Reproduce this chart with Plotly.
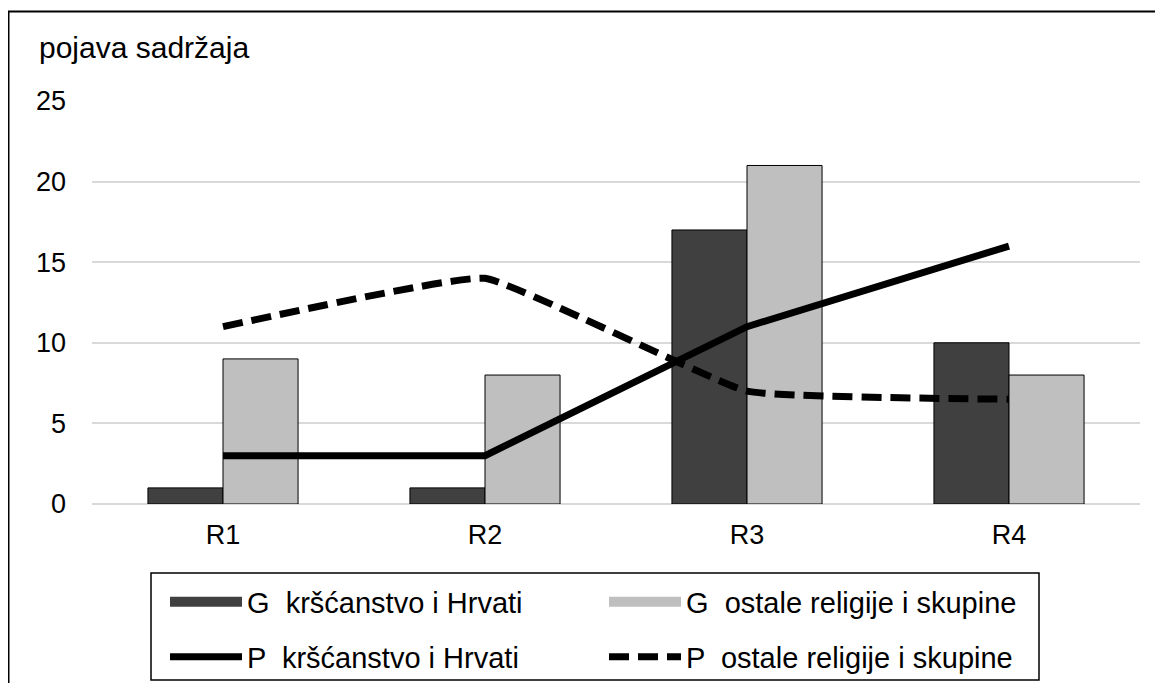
import plotly.graph_objects as go

categories = ["R1", "R2", "R3", "R4"]
g_krs = [1, 1, 17, 10]
g_ost = [9, 8, 21, 8]
p_krs = [3, 3, 11, 16]
p_ost = [11, 14, 7, 6.5]
y_ticks = [0, 5, 10, 15, 20, 25]

names = ["G  kršćanstvo i Hrvati", "G  ostale religije i skupine",
         "P  kršćanstvo i Hrvati", "P  ostale religije i skupine"]

DARK, LIGHT = "#404040", "#bfbfbf"

# Page body has an 8px margin, so figure coordinates = screen - 8
OFF = 8
W, H = 1147, 675
ml, mr, mt, mb = 92 - OFF, W - (1140 - OFF), 101 - OFF, H - (504 - OFF)
pw, ph = W - ml - mr, H - mt - mb

def px(sx):
    return (sx - OFF - ml) / pw

def py(sy):
    return (H - mb - (sy - OFF)) / ph

fig = go.Figure()
fig.add_trace(go.Bar(x=categories, y=g_krs, name=names[0], showlegend=False,
                     marker=dict(color=DARK, line=dict(color="black", width=1))))
fig.add_trace(go.Bar(x=categories, y=g_ost, name=names[1], showlegend=False,
                     marker=dict(color=LIGHT, line=dict(color="black", width=1))))
fig.add_trace(go.Scatter(x=categories, y=p_krs, name=names[2], mode="lines",
                         line=dict(color="black", width=7), legend="legend2"))
fig.add_trace(go.Scatter(x=categories, y=p_ost, name=names[3], mode="lines",
                         line=dict(color="black", width=7, dash="20px,9px",
                                   shape="spline", smoothing=0.3),
                         legend="legend2"))
# legend swatches for the bar series (wide rectangles like the original)
fig.add_trace(go.Scatter(x=[None], y=[None], name=names[0], mode="lines",
                         line=dict(color=DARK, width=14), legend="legend"))
fig.add_trace(go.Scatter(x=[None], y=[None], name=names[1], mode="lines",
                         line=dict(color=LIGHT, width=14), legend="legend"))

ITEMW = 72
leg_common = dict(orientation="h", xanchor="left", yanchor="middle",
                  bgcolor="rgba(0,0,0,0)", borderwidth=0,
                  entrywidth=440 - ITEMW - 16, entrywidthmode="pixels", itemwidth=ITEMW,
                  font=dict(size=29, color="black"), traceorder="normal")

fig.update_layout(
    width=W, height=H,
    margin=dict(l=ml, r=mr, t=mt, b=mb, autoexpand=False),
    paper_bgcolor="white", plot_bgcolor="white",
    font=dict(family="Liberation Sans, Arial, sans-serif", size=27, color="black"),
    barmode="group", bargap=0.427, bargroupgap=0,
    xaxis=dict(showgrid=False, showline=False, ticks="", tickfont=dict(size=27),
               ticklabelstandoff=12),
    yaxis=dict(range=[0, 25], tickvals=y_ticks, showgrid=True, gridcolor="#d9d9d9",
               gridwidth=1.5, zeroline=True, zerolinecolor="#d9d9d9", zerolinewidth=1.5,
               showline=False, ticks="", tickfont=dict(size=27), ticklabelstandoff=25),
    legend=dict(x=px(165), y=py(602), **leg_common),
    legend2=dict(x=px(165), y=py(657), **leg_common),
    showlegend=True,
)

fig.add_annotation(text="pojava sadržaja", xref="paper", yref="paper",
                   x=px(37), y=py(48), xanchor="left", yanchor="middle",
                   showarrow=False, font=dict(size=30))

# legend frame
fig.add_shape(type="rect", xref="paper", yref="paper",
              x0=px(151), x1=px(1039), y0=py(680), y1=py(573),
              line=dict(color="black", width=1.5), fillcolor="rgba(0,0,0,0)")
# outer frame (top and left edges visible)
fig.add_shape(type="line", xref="paper", yref="paper",
              x0=px(8), x1=px(1163), y0=py(11.5), y1=py(11.5),
              line=dict(color="black", width=2))
fig.add_shape(type="line", xref="paper", yref="paper",
              x0=px(8.5), x1=px(8.5), y0=py(11.5), y1=py(700),
              line=dict(color="black", width=2))

fig.write_html("out.html")
